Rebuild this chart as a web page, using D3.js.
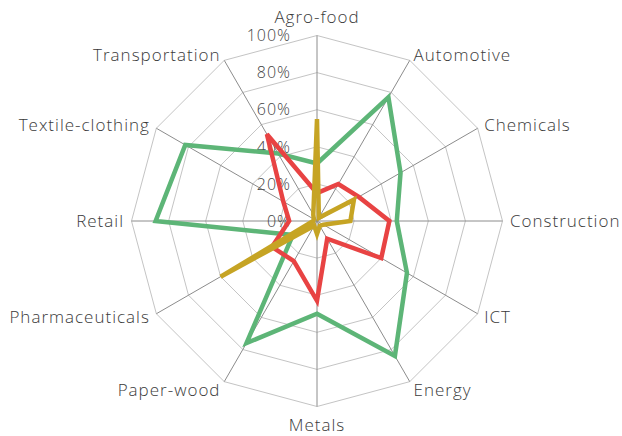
<!DOCTYPE html>
<html>
<head>
<meta charset="utf-8">
<script src="https://cdn.jsdelivr.net/npm/d3@7"></script>
<style>
  html, body { margin: 0; padding: 0; background: #fff; }
  svg { display: block; }
</style>
</head>
<body>
<svg id="chart" width="622" height="436"></svg>
<script>
const categories = ["Agro-food","Automotive","Chemicals","Construction","ICT","Energy","Metals","Paper-wood","Pharmaceuticals","Retail","Textile-clothing","Transportation"];
const greenValues  = [31, 77, 52, 43, 56, 84, 50, 76, 15, 87, 82, 42];
const redValues    = [15, 23, 26, 39, 40, 11, 43, 25, 28, 15, 21, 54];
const yellowValues = [55, 2, 23, 18, 4, 3, 7, 3, 60, 2, 2, 4];
const tickValues = [0, 20, 40, 60, 80, 100];
const tickLabels = ["0%", "20%", "40%", "60%", "80%", "100%"];

const seriesList = [
  { name: "green", values: greenValues, color: "#5db577" },
  { name: "red", values: redValues, color: "#e84343" },
  { name: "yellow", values: yellowValues, color: "#c6a424" }
];

const FONT = "'Open Sans', Lato, sans-serif";
const svg = d3.select("#chart");
const cx = 317, cy = 221, R = 185.5;
const r = d3.scaleLinear().domain([0, 100]).range([0, R]);
const angle = d3.scalePoint().domain(categories).range([0, 2 * Math.PI * (categories.length - 1) / categories.length]);

const g = svg.append("g").attr("transform", `translate(${cx},${cy})`);
const pt = (cat, v) => {
  const a = angle(cat);
  return [r(v) * Math.sin(a), -r(v) * Math.cos(a)];
};

// rings
tickValues.filter(t => t > 0).forEach(t => {
  g.append("polygon")
    .attr("points", categories.map(c => pt(c, t).join(",")).join(" "))
    .attr("fill", "none")
    .attr("stroke", "#c4c4c4")
    .attr("stroke-width", 1);
});

// axes
categories.forEach(c => {
  const [x, y] = pt(c, 100);
  g.append("line").attr("x1", 0).attr("y1", 0).attr("x2", x).attr("y2", y)
    .attr("stroke", "#8c8c8c").attr("stroke-width", 1);
});

// tick labels
tickValues.forEach((t, i) => {
  g.append("text")
    .attr("x", -26)
    .attr("y", -r(t))
    .attr("dy", "0.36em")
    .attr("text-anchor", "end")
    .attr("font-family", FONT)
    .attr("font-weight", 300)
    .attr("font-size", 16)
    .attr("letter-spacing", 1)
    .attr("fill", "#444")
    .text(tickLabels[i]);
});

// series
const line = d3.line().curve(d3.curveLinearClosed);
seriesList.forEach(s => {
  g.append("path")
    .attr("d", line(categories.map((c, i) => pt(c, s.values[i]))))
    .attr("fill", "none")
    .attr("stroke", s.color)
    .attr("stroke-width", 4.5)
    .attr("stroke-linejoin", "miter");
});

// category labels
categories.forEach(c => {
  const a = angle(c);
  const s = Math.sin(a), co = Math.cos(a);
  const [px, py] = pt(c, 100);
  let anchor = Math.abs(s) < 0.1 ? "middle" : (s > 0 ? "start" : "end");
  let x = px + 7.5 * s;
  let y = py + 12 * (0.5 - 0.5 * co);
  if (Math.abs(s) < 0.1) y += co > 0 ? -13 : 12;
  else if (co < -0.8) y += 3;
  g.append("text")
    .attr("x", x)
    .attr("y", y)
    .attr("text-anchor", anchor)
    .attr("font-family", FONT)
    .attr("font-weight", 300)
    .attr("font-size", 17)
    .attr("letter-spacing", 1)
    .attr("fill", "#3a3a3a")
    .text(c);
});
</script>
</body>
</html>
